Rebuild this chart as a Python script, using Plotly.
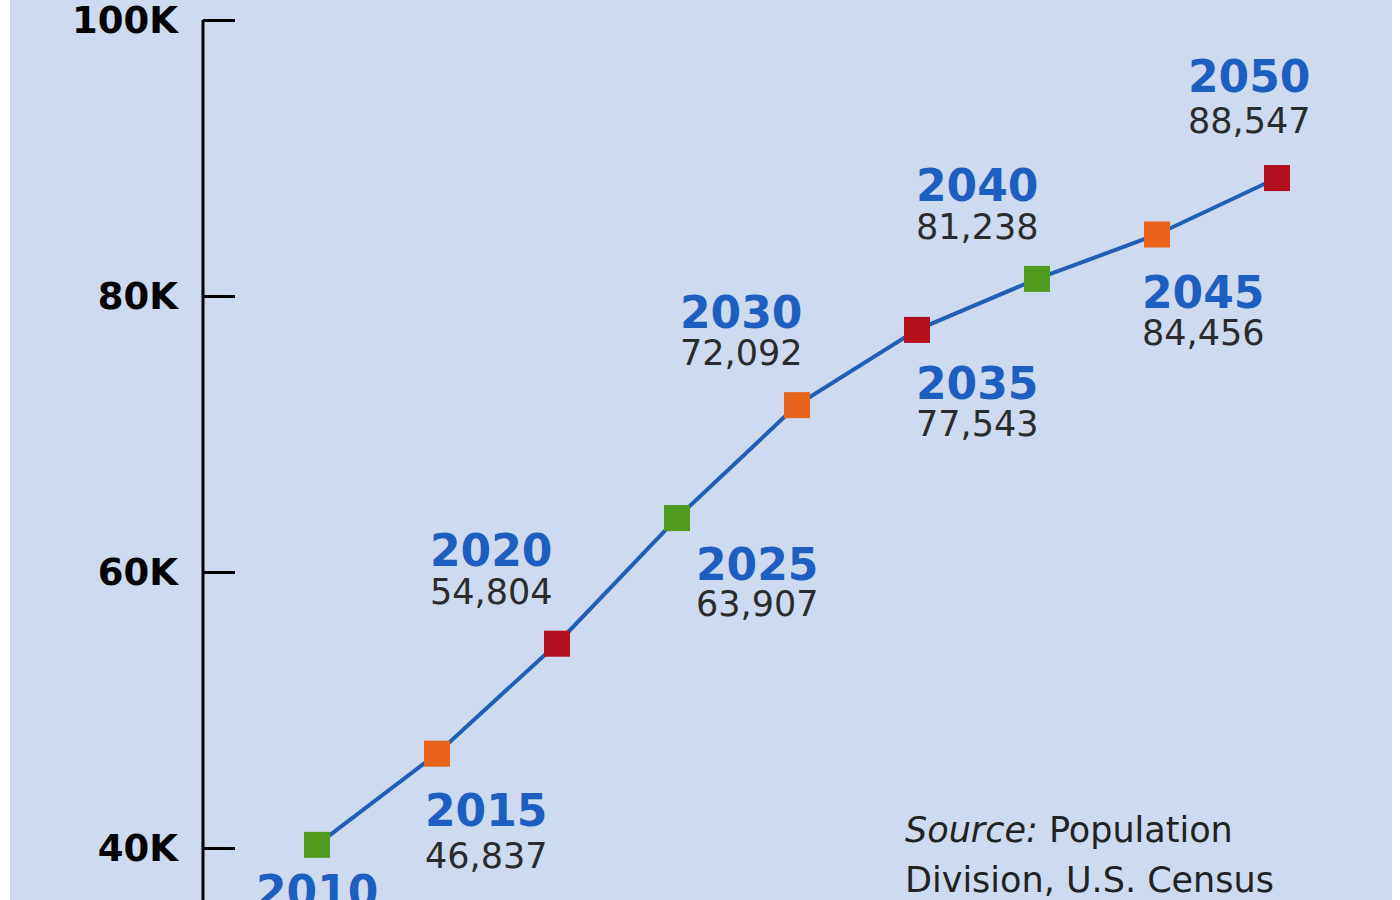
import plotly.graph_objects as go

# ── Data (thousands of people aged 65+) ─────────────
years = [2010, 2015, 2020, 2025, 2030, 2035, 2040, 2045, 2050]
population = [40229, 46837, 54804, 63907, 72092, 77543, 81238, 84456, 88547]
tick_values = [40000, 60000, 80000, 100000]
tick_labels = ["40K", "60K", "80K", "100K"]
source_lines = ["<i>Source:</i> Population", "Division, U.S. Census"]

# ── Styling ─────────────────────────────────────────
BG = "#cedaef"
LINE_BLUE = "#1f5fb5"
YEAR_BLUE = "#1d5fc0"
VALUE_GREY = "#2b2b2b"
marker_colors = ["#4f9a1f", "#e8631b", "#b30f1c"] * 3
Y_MIN, Y_MAX = 36232, 101449

# label offsets (px) from each point: (dx, year dy, value dy), dy positive = down
label_offsets = [
    (0, 47, 92),
    (49, 57, 102),
    (-66, -93, -52),
    (80, 46, 86),
    (-56, -93, -52),
    (60, 54, 94),
    (-60, -93, -52),
    (46, 58, 98),
    (-28, -102, -57),
]

fig = go.Figure()
fig.add_trace(go.Scatter(
    x=years, y=population,
    mode="lines+markers",
    line=dict(color=LINE_BLUE, width=4),
    marker=dict(symbol="square", size=26, color=marker_colors),
    hoverinfo="x+y",
    cliponaxis=False,
))

annotations = []
for yr, val, (dx, dy_year, dy_val) in zip(years, population, label_offsets):
    annotations.append(dict(
        x=yr, y=val, xref="x", yref="y", text=str(yr), showarrow=False,
        xshift=dx, yshift=-dy_year,
        font=dict(family="DejaVu Sans", size=44, color=YEAR_BLUE, weight="bold"),
    ))
    annotations.append(dict(
        x=yr, y=val, xref="x", yref="y", text=f"{val:,}", showarrow=False,
        xshift=dx, yshift=-dy_val,
        font=dict(family="DejaVu Sans", size=35, color=VALUE_GREY),
    ))

for i, line in enumerate(source_lines):
    annotations.append(dict(
        x=(903 - 203) / 1197, y=(900 - 830 - 50 * i) / 900, xref="paper", yref="paper",
        xanchor="left", yanchor="middle", text=line, showarrow=False,
        font=dict(family="DejaVu Sans", size=35, color="#222222"),
    ))

shapes = [
    # white page edges around the blue panel
    dict(type="rect", xref="paper", yref="paper", x0=-203 / 1197, x1=-193 / 1197,
         y0=-0.01, y1=1.01, fillcolor="white", line_width=0, layer="below"),
    dict(type="rect", xref="paper", yref="paper", x0=(1392 - 203) / 1197, x1=1.01,
         y0=-0.01, y1=1.01, fillcolor="white", line_width=0, layer="below"),
    # y axis line, starting at the top tick
    dict(type="line", xref="paper", yref="y", x0=0, x1=0,
         y0=Y_MIN, y1=max(tick_values), line=dict(color="black", width=3)),
]

fig.update_layout(
    width=1400, height=900,
    margin=dict(l=203, r=0, t=0, b=0),
    paper_bgcolor=BG, plot_bgcolor=BG,
    showlegend=False,
    annotations=annotations,
    shapes=shapes,
    xaxis=dict(range=[2005.25, 2055.125], visible=False, fixedrange=True),
    yaxis=dict(
        range=[Y_MIN, Y_MAX],
        tickvals=tick_values, ticktext=tick_labels,
        ticks="inside", ticklen=32, tickwidth=3, tickcolor="black",
        showline=False, showgrid=False, zeroline=False,
        ticklabelstandoff=24, ticklabeloverflow="allow",
        tickfont=dict(family="DejaVu Sans", size=37, color="black", weight="bold"),
    ),
)

fig.write_html(
    "out.html",
    config={"displayModeBar": False},
    post_script="document.body.style.margin='0';",
)
